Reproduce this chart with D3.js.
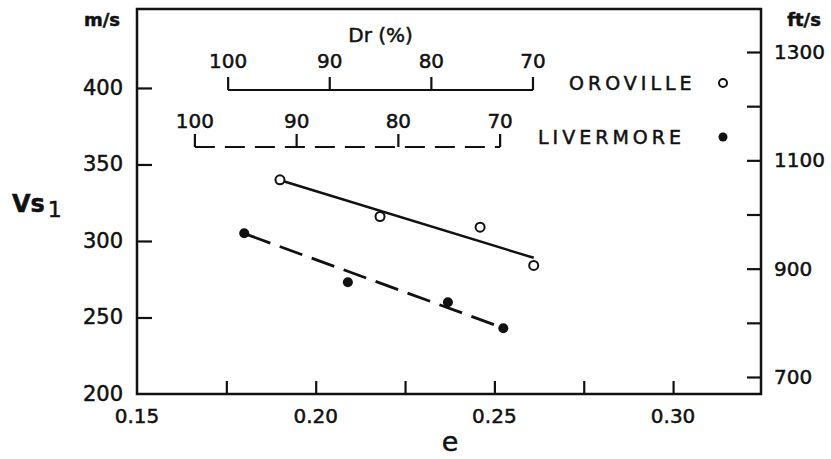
<!DOCTYPE html>
<html>
<head>
<meta charset="utf-8">
<script src="https://cdn.jsdelivr.net/npm/d3@7"></script>
<style>
  body { margin: 0; background: #fff; }
  text { font-family: "DejaVu Sans", sans-serif; fill: #111; stroke: #111; stroke-width: 0.5; }
</style>
</head>
<body>
<svg id="chart" width="831" height="459"></svg>
<script>
var width = 831,
    height = 459;

// data
var oroE = [0.190, 0.218, 0.246, 0.261];
var oroVs = [340, 316, 309, 284];
var livE = [0.180, 0.209, 0.237, 0.2525];
var livVs = [305, 273, 260, 243];

// fitted lines (end points)
var oroFitE = [0.191, 0.261];
var oroFitVs = [339, 289];
var livFitE = [0.181, 0.2515];
var livFitVs = [304, 244];

// relative density scales: Dr ticks and the e values of their ends
var drTicks = [100, 90, 80, 70];
var oroDrEnds = [0.1755, 0.2608];
var livDrEnds = [0.1662, 0.2516];

var xTicks = [0.175, 0.20, 0.225, 0.25, 0.275, 0.30];
var xLabels = [0.15, 0.20, 0.25, 0.30];
var yTicks = [250, 300, 350, 400];
var yLabels = [200, 250, 300, 350, 400];
var ftTicks = [700, 800, 900, 1000, 1100, 1200, 1300];
var ftLabels = [700, 900, 1100, 1300];

var margin = { left: 137, top: 9, right: 70, bottom: 65 };
var innerW = width - margin.left - margin.right,
    innerH = height - margin.top - margin.bottom;

var svg = d3.select('#chart');
var g = svg.append('g').attr('transform', 'translate(' + margin.left + ',' + margin.top + ')');

var x = d3.scaleLinear().domain([0.15, 0.3246]).range([0, innerW]);
var y = d3.scaleLinear().domain([200, 451.6]).range([innerH, 0]);
var yFt = d3.scaleLinear().domain([668.6, 1379.4]).range([innerH, 0]);

// frame
g.append('rect')
    .attr('width', innerW).attr('height', innerH)
    .attr('fill', 'none').attr('stroke', '#111').attr('stroke-width', 2.5);

// inward ticks
g.append('g').call(d3.axisBottom(x).tickValues(xTicks).tickSize(-13).tickFormat(''))
    .attr('transform', 'translate(0,' + innerH + ')');
g.append('g').call(d3.axisLeft(y).tickValues(yTicks).tickSize(-15).tickFormat(''));
g.append('g').call(d3.axisRight(yFt).tickValues(ftTicks).tickSize(-14).tickFormat(''))
    .attr('transform', 'translate(' + innerW + ',0)');
g.selectAll('.domain').remove();
g.selectAll('.tick line').attr('stroke', '#111').attr('stroke-width', 2.2);

// tick labels
g.selectAll('.xlab').data(xLabels).enter().append('text')
    .attr('x', d => x(d)).attr('y', innerH + 29)
    .attr('text-anchor', 'middle').attr('font-size', 20)
    .text(d => d3.format('.2f')(d));
g.selectAll('.ylab').data(yLabels).enter().append('text')
    .attr('x', -14).attr('y', d => y(d) + 7)
    .attr('text-anchor', 'end').attr('font-size', 21)
    .text(d => d);
g.selectAll('.ftlab').data(ftLabels).enter().append('text')
    .attr('x', innerW + 13).attr('y', d => yFt(d) + 7)
    .attr('text-anchor', 'start').attr('font-size', 20)
    .text(d => d);

// units and axis titles
svg.append('text').attr('x', 102).attr('y', 26).attr('text-anchor', 'middle')
    .attr('font-size', 18).attr('font-weight', 'bold').text('m/s');
svg.append('text').attr('x', 804).attr('y', 26).attr('text-anchor', 'middle')
    .attr('font-size', 18).attr('font-weight', 'bold').text('ft/s');
var vs = svg.append('text').attr('x', 12).attr('y', 212)
    .attr('font-size', 24).attr('font-weight', 'bold');
vs.append('tspan').text('Vs');
vs.append('tspan').attr('font-size', 22).attr('font-weight', 'normal').attr('dx', 3).attr('dy', 5).text('1');
svg.append('text').attr('x', 450).attr('y', 451).attr('text-anchor', 'middle')
    .attr('font-size', 27).text('e');

// Dr scales
function drScale(ends, yPos, dash, labelY) {
    var s = d3.scaleLinear().domain([100, 70]).range([x(ends[0]), x(ends[1])]);
    g.append('line')
        .attr('x1', s(100)).attr('x2', s(70))
        .attr('y1', yPos).attr('y2', yPos)
        .attr('stroke', '#111').attr('stroke-width', 2.2)
        .attr('stroke-dasharray', dash);
    g.selectAll(null).data(drTicks).enter().append('line')
        .attr('x1', d => s(d)).attr('x2', d => s(d))
        .attr('y1', yPos).attr('y2', yPos - 13)
        .attr('stroke', '#111').attr('stroke-width', 2.2);
    g.selectAll(null).data(drTicks).enter().append('text')
        .attr('x', d => s(d)).attr('y', labelY)
        .attr('text-anchor', 'middle').attr('font-size', 20)
        .text(d => d);
    return s;
}
var oroDr = drScale(oroDrEnds, 81, null, 59);
var livDr = drScale(livDrEnds, 138, '20,10', 119);

g.append('text').attr('x', oroDr(85)).attr('y', 33)
    .attr('text-anchor', 'middle').attr('font-size', 20)
    .text('Dr (%)');

// legend
g.append('text').attr('x', 569 - margin.left).attr('y', 90 - margin.top)
    .attr('font-size', 19).attr('letter-spacing', 4).text('OROVILLE');
g.append('circle').attr('cx', 723 - margin.left).attr('cy', 83 - margin.top).attr('r', 4)
    .attr('fill', '#fff').attr('stroke', '#111').attr('stroke-width', 2);
g.append('text').attr('x', 538 - margin.left).attr('y', 144 - margin.top)
    .attr('font-size', 19).attr('letter-spacing', 4).text('LIVERMORE');
g.append('circle').attr('cx', 723 - margin.left).attr('cy', 137 - margin.top).attr('r', 4.5)
    .attr('fill', '#111');

// fit lines
var line = d3.line().x(d => x(d[0])).y(d => y(d[1]));
g.append('path').datum(d3.zip(oroFitE, oroFitVs)).attr('d', line)
    .attr('fill', 'none').attr('stroke', '#111').attr('stroke-width', 2.5);
g.append('path').datum(d3.zip(livFitE, livFitVs)).attr('d', line)
    .attr('fill', 'none').attr('stroke', '#111').attr('stroke-width', 2.8)
    .attr('stroke-dasharray', '24,10');

// points
g.selectAll('.oro').data(d3.zip(oroE, oroVs)).enter().append('circle')
    .attr('cx', d => x(d[0])).attr('cy', d => y(d[1])).attr('r', 4.5)
    .attr('fill', '#fff').attr('stroke', '#111').attr('stroke-width', 2);
g.selectAll('.liv').data(d3.zip(livE, livVs)).enter().append('circle')
    .attr('cx', d => x(d[0])).attr('cy', d => y(d[1])).attr('r', 5)
    .attr('fill', '#111');
</script>
</body>
</html>
